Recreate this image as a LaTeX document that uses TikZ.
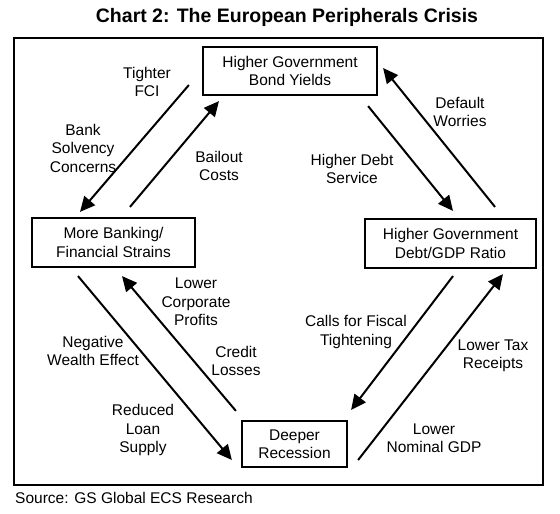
\documentclass[tikz,border=0pt]{standalone}
\usepackage{fontspec}
\setmainfont{Liberation Sans}
\usetikzlibrary{arrows.meta}
\tikzset{stage/.style={draw,line width=2.2pt,inner sep=0pt,align=center,
    font=\fontsize{15.5}{18.5}\selectfont},
  arrow/.style={-{Triangle[length=15pt,width=14pt]},line width=2pt},
  tag/.style={align=center,inner sep=0pt,font=\fontsize{15.5}{18.5}\selectfont}}

\begin{document}
\begin{tikzpicture}[x=1pt,y=-1pt]
  \path[use as bounding box] (0,0) rectangle (560,514);
  \node[font=\fontsize{19.5}{22}\selectfont\bfseries] (title) at (287,17)
    {Chart 2: The European Peripherals Crisis};
  \draw[line width=2.5pt] (14,38) rectangle (543,485);
  % the four stages of the loop
  \node[stage,minimum width=174pt,minimum height=48pt] (bond) at (290,71)
    {Higher Government\\Bond Yields};
  \node[stage,minimum width=163pt,minimum height=49pt] (bank) at (113.5,242.5)
    {More Banking/\\Financial Strains};
  \node[stage,minimum width=171pt,minimum height=49pt] (debt) at (450.5,243.5)
    {Higher Government\\Debt/GDP Ratio};
  \node[stage,minimum width=105pt,minimum height=46pt] (recess) at (294.5,444)
    {Deeper\\Recession};
  % arrow ends
  \coordinate (fciA) at ([shift={(-13,14)}]bond.west);
  \coordinate (fciB) at ([shift={(-33.5,-5)}]bank.north);
  \coordinate (bailA) at ([shift={(16.5,-10)}]bank.north);
  \coordinate (bailB) at ([shift={(-71,5)}]bond.south);
  \coordinate (dfltA) at ([shift={(44.5,-11)}]debt.north);
  \coordinate (dfltB) at ([shift={(5,-3)}]bond.east);
  \coordinate (servA) at ([shift={(-10,10)}]bond.south east);
  \coordinate (servB) at ([shift={(2.5,-7)}]debt.north);
  \coordinate (callA) at ([shift={(2.5,7)}]debt.south);
  \coordinate (callB) at ([shift={(3,-10)}]recess.north east);
  \coordinate (taxA) at ([shift={(10,16)}]recess.east);
  \coordinate (taxB) at ([shift={(52.5,5)}]debt.south);
  \coordinate (profA) at ([shift={(-5,-9)}]recess.north west);
  \coordinate (profB) at ([shift={(8.5,8)}]bank.south);
  \coordinate (wlthA) at ([shift={(-35.5,8)}]bank.south);
  \coordinate (wlthB) at ([shift={(-9,16)}]recess.west);
  \foreach \a/\b in {fciA/fciB,bailA/bailB,dfltA/dfltB,servA/servB,
                     callA/callB,taxA/taxB,profA/profB,wlthA/wlthB}{
    \draw[arrow] (\a)--(\b);
  }
  % labels
  \node[tag] (fci) at (147,82) {Tighter\\FCI};
  \node[tag] (solv) at (83,148) {Bank\\Solvency\\Concerns};
  \node[tag] (bail) at (219,166) {Bailout\\Costs};
  \node[tag] (dflt) at (460,112) {Default\\Worries};
  \node[tag] (serv) at (352,169) {Higher Debt\\Service};
  \node[tag] (prof) at (196,302) {Lower\\Corporate\\Profits};
  \node[tag] (cred) at (236,361) {Credit\\Losses};
  \node[tag] (wlth) at (93,351) {Negative\\Wealth Effect};
  \node[tag] (loan) at (143,430) {Reduced\\Loan\\Supply};
  \node[tag] (call) at (356,332) {Calls for Fiscal\\Tightening};
  \node[tag] (tax) at (493,356) {Lower Tax\\Receipts};
  \node[tag] (gdp) at (434,438) {Lower\\Nominal GDP};
  \node[tag,anchor=base west] (src) at (15,503) {Source: GS Global ECS Research};
\end{tikzpicture}
\end{document}
